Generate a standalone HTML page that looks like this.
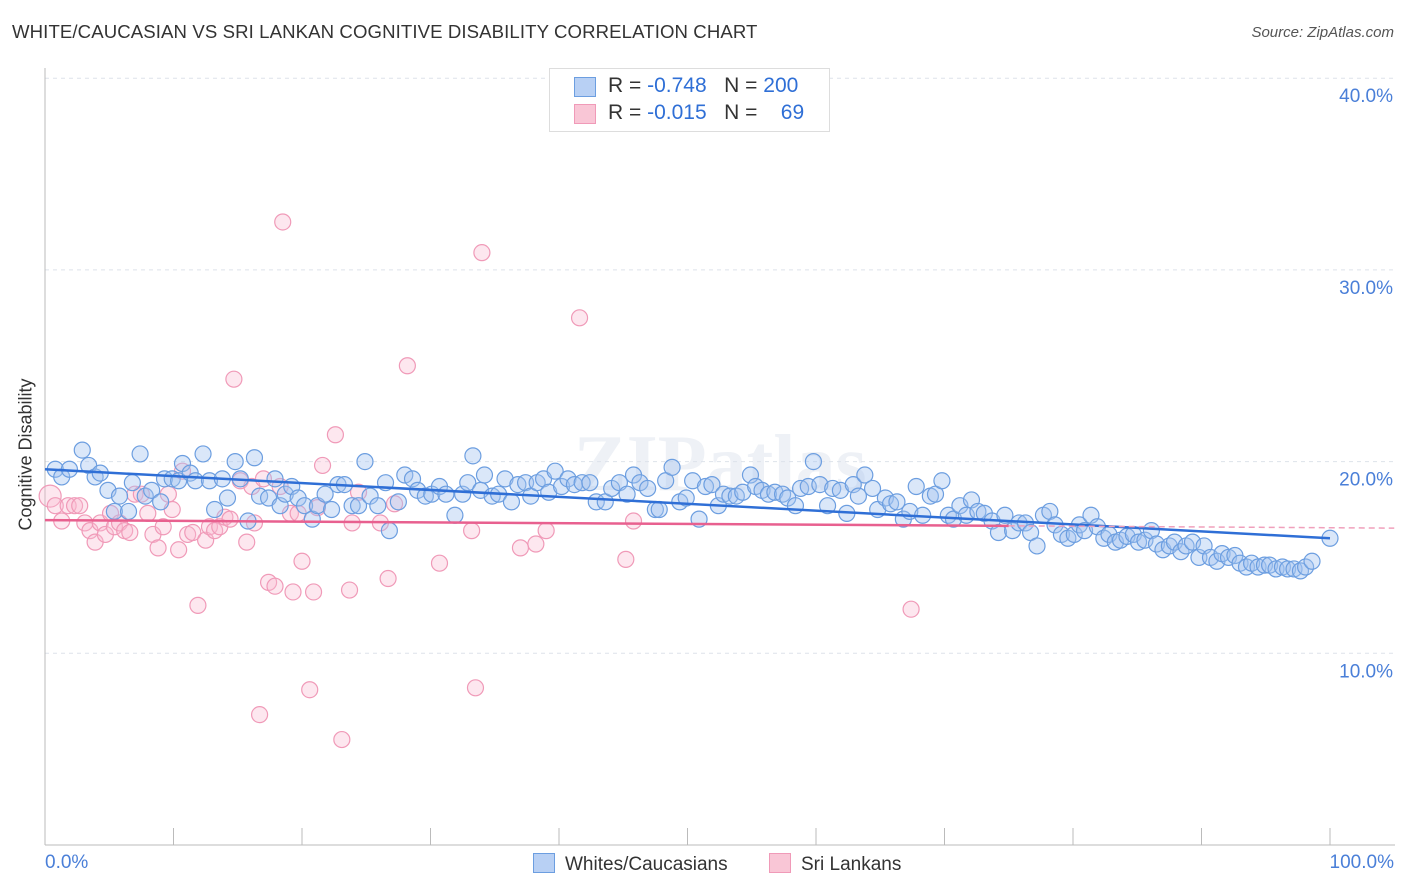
<!DOCTYPE html>
<html><head><meta charset="utf-8"><style>
body{margin:0;background:#fff;font-family:"Liberation Sans",sans-serif;}
#wrap{position:relative;width:1406px;height:892px;overflow:hidden;}
.t{position:absolute;white-space:nowrap;}
</style></head><body>
<div id="wrap">
<div class="t" style="left:12px;top:21px;font-size:18.6px;color:#333;letter-spacing:0.1px;">WHITE/CAUCASIAN VS SRI LANKAN COGNITIVE DISABILITY CORRELATION CHART</div>
<div class="t" style="right:12px;top:24px;font-size:15px;color:#555;font-style:italic;">Source: ZipAtlas.com</div>
<svg id="svg" width="1406" height="892" style="position:absolute;left:0;top:0"></svg>
</div>
<script>
const yTicks=[10,20,30,40];
const yTickLabels=["10.0%","20.0%","30.0%","40.0%"];
const blueX=[0.8,1.3,1.9,2.9,3.4,3.9,4.3,4.9,5.4,5.8,6.5,6.8,7.4,7.8,8.3,9.0,9.3,9.9,10.4,10.7,11.3,11.7,12.3,12.8,13.2,13.8,14.2,14.8,15.2,15.8,16.3,16.7,17.4,17.9,18.3,18.7,19.2,19.7,20.2,20.8,21.2,21.8,22.3,22.8,23.3,23.9,24.4,24.9,25.3,25.9,26.5,26.8,27.5,28.0,28.6,29.0,29.6,30.1,30.7,31.2,31.9,32.5,32.9,33.3,33.9,34.2,34.8,35.3,35.8,36.3,36.8,37.4,37.8,38.3,38.8,39.2,39.7,40.2,40.7,41.2,41.8,42.4,42.9,43.6,44.1,44.7,45.3,45.8,46.3,46.9,47.5,47.8,48.3,48.8,49.4,49.9,50.4,50.9,51.4,51.9,52.4,52.8,53.3,53.8,54.3,54.9,55.3,55.8,56.3,56.8,57.4,57.8,58.4,58.8,59.4,59.8,60.3,60.9,61.3,61.9,62.4,62.9,63.3,63.8,64.4,64.8,65.4,65.8,66.3,66.8,67.3,67.8,68.3,68.9,69.3,69.8,70.3,70.7,71.2,71.7,72.1,72.6,73.1,73.7,74.2,74.7,75.3,75.8,76.3,76.7,77.2,77.7,78.2,78.6,79.1,79.6,80.1,80.5,80.9,81.4,81.9,82.4,82.8,83.3,83.7,84.2,84.7,85.1,85.6,86.1,86.5,87.0,87.5,87.9,88.4,88.8,89.3,89.8,90.2,90.7,91.2,91.6,92.1,92.6,93.0,93.5,93.9,94.4,94.9,95.3,95.8,96.3,96.7,97.2,97.7,98.1,98.6,100];
const blueY=[19.6,19.2,19.6,20.6,19.8,19.2,19.4,18.5,17.4,18.2,17.4,18.9,20.4,18.2,18.5,17.9,19.1,19.1,19.0,19.9,19.4,19.0,20.4,19.0,17.5,19.1,18.1,20.0,19.1,16.9,20.2,18.2,18.1,19.1,17.7,18.3,18.7,18.1,17.7,17.0,17.7,18.3,17.5,18.8,18.8,17.7,17.7,20.0,18.2,17.7,18.9,16.4,17.9,19.3,19.1,18.5,18.2,18.3,18.7,18.3,17.2,18.3,18.9,20.3,18.5,19.3,18.2,18.3,19.1,17.9,18.8,18.9,18.2,18.9,19.1,18.4,19.5,18.7,19.1,18.8,18.9,18.9,17.9,17.9,18.6,18.9,18.3,19.3,18.9,18.6,17.5,17.5,19.0,19.7,17.9,18.1,19.0,17.0,18.7,18.8,17.7,18.3,18.2,18.2,18.4,19.3,18.7,18.5,18.3,18.4,18.3,18.1,17.7,18.6,18.7,20.0,18.8,17.7,18.6,18.5,17.3,18.8,18.2,19.3,18.6,17.5,18.1,17.8,17.9,17.0,17.4,18.7,17.2,18.2,18.3,19.0,17.2,17.0,17.7,17.2,18.0,17.4,17.3,16.9,16.3,17.2,16.4,16.8,16.8,16.3,15.6,17.2,17.4,16.7,16.2,16.0,16.2,16.7,16.4,17.2,16.6,16.0,16.2,15.8,15.9,16.1,16.2,15.8,15.9,16.4,15.7,15.4,15.6,15.8,15.3,15.6,15.8,15.0,15.6,15.0,14.8,15.2,15.0,15.1,14.7,14.5,14.7,14.5,14.6,14.6,14.4,14.5,14.4,14.4,14.3,14.5,14.8,16.0];
const pinkX=[0.4,0.8,1.3,1.8,2.3,2.7,3.1,3.5,3.9,4.3,4.7,5.1,5.4,5.8,6.2,6.6,7.0,7.5,8.0,8.4,8.8,9.2,9.6,9.9,10.4,10.7,11.1,11.5,11.9,12.5,12.8,13.2,13.6,14.0,14.4,14.7,15.2,15.7,16.1,16.3,16.7,17.0,17.4,17.9,18.3,18.5,19.1,19.3,19.7,20.0,20.6,20.9,21.2,21.6,22.6,23.1,23.7,23.9,24.4,26.1,26.7,27.2,28.2,30.7,33.2,33.5,34.0,37.0,38.2,39.0,41.6,45.2,45.8,67.4];
const pinkY=[18.2,17.7,16.9,17.7,17.7,17.7,16.8,16.4,15.8,16.8,16.2,17.3,16.6,16.8,16.4,16.3,18.3,18.3,17.3,16.2,15.5,16.6,18.3,17.5,15.4,19.5,16.2,16.3,12.5,15.9,16.6,16.4,16.6,17.1,17.0,24.3,19.0,15.8,18.7,16.8,6.8,19.1,13.7,13.5,18.7,32.5,17.3,13.2,17.3,14.8,8.1,13.2,17.6,19.8,21.4,5.5,13.3,16.8,18.4,16.8,13.9,17.8,25.0,14.7,16.4,8.2,30.9,15.5,15.7,16.4,27.5,14.9,16.9,12.3];
const blueTrend=[19.6,16.0];
const pinkTrend=[16.95,16.55];

const X0=45,X1=1330,Y0=845,PX=19.17;
const sx=v=>X0+(X1-X0)*v/100;
const sy=v=>Y0-v*PX;
const NS="http://www.w3.org/2000/svg";
const svg=document.getElementById('svg');
function mk(tag,attrs,parent){const e=document.createElementNS(NS,tag);for(const k in attrs)e.setAttribute(k,attrs[k]);(parent||svg).appendChild(e);return e;}

const wm=mk('text',{x:720,y:490,'text-anchor':'middle','font-size':'80','font-family':'Liberation Serif, serif','fill':'#eef1f6','font-weight':'bold'});


wm.textContent='ZIPatlas';

yTicks.forEach((t,i)=>{
 const g=mk('line',{x1:X0,x2:1395,y1:sy(t),y2:sy(t),stroke:'#dde2ea','stroke-dasharray':'4,4'});
 
 
 const lb=mk('text',{x:1393,y:sy(t)+24,'text-anchor':'end','font-size':'19','fill':'#4a7fd8','font-family':'Liberation Sans, sans-serif'});
 
 
 lb.textContent=yTickLabels[i];
});
const ax=mk('line',{x1:X0,x2:1395,y1:Y0,y2:Y0,stroke:'#bbb'});


const ay=mk('line',{x1:X0,x2:X0,y1:68,y2:Y0,stroke:'#bbb'});


for(let i=0;i<=10;i++){
 const tk=mk('line',{x1:sx(i*10),x2:sx(i*10),y1:828,y2:Y0,stroke:'#bbb'});
 
 
}

pinkX.forEach((x,i)=>{
 const c=mk('circle',{cx:sx(x),cy:sy(pinkY[i]),r:i===0?11:8,fill:'rgba(248,187,208,0.35)',stroke:'#f09ab8','stroke-width':1.2});
 
 
});
blueX.forEach((x,i)=>{
 const c=mk('circle',{cx:sx(x),cy:sy(blueY[i]),r:8,fill:'rgba(163,196,240,0.4)',stroke:'#6c9ee0','stroke-width':1.2});
 
 
});
const bl=mk('line',{x1:sx(0),y1:sy(blueTrend[0]),x2:sx(100),y2:sy(blueTrend[1]),stroke:'#2f6fd6','stroke-width':2.5});


const pslope=(pinkTrend[1]-pinkTrend[0])/100;
const pl=mk('line',{x1:sx(0),y1:sy(pinkTrend[0]),x2:sx(75),y2:sy(pinkTrend[0]+pslope*75),stroke:'#e8608f','stroke-width':2.5});


const pd=mk('line',{x1:sx(75),y1:sy(pinkTrend[0]+pslope*75),x2:sx(105),y2:sy(pinkTrend[0]+pslope*105),stroke:'#f0a0bc','stroke-width':1.5,'stroke-dasharray':'6,4'});


</script>
<div class="t" style="left:-50px;top:444px;transform:rotate(-90deg);font-size:18px;color:#333;">Cognitive Disability</div>
<div class="t" style="left:45px;top:852px;font-size:19px;color:#4a7fd8;">0.0%</div>
<div class="t" style="right:12px;top:852px;font-size:19px;color:#4a7fd8;">100.0%</div>
<div style="position:absolute;left:549px;top:68px;width:279px;height:62px;border:1px solid #ddd;background:#fff;font-size:21px;">
 <div style="position:absolute;left:24px;top:8px;width:20px;height:18px;background:#b8d0f4;border:1px solid #6c9ee0;"></div>
 <div class="t" style="left:58px;top:5px;color:#333;">R = <span style="color:#2f6fd6">-0.748</span>&nbsp;&nbsp;&nbsp;N = <span style="color:#2f6fd6">200</span></div>
 <div style="position:absolute;left:24px;top:35px;width:20px;height:18px;background:#f9c6d6;border:1px solid #f09ab8;"></div>
 <div class="t" style="left:58px;top:32px;color:#333;">R = <span style="color:#2f6fd6">-0.015</span>&nbsp;&nbsp;&nbsp;N = &nbsp;&nbsp;&nbsp;<span style="color:#2f6fd6">69</span></div>
</div>
<div style="position:absolute;left:533px;top:853px;font-size:19px;color:#333;">
 <span style="display:inline-block;width:20px;height:18px;background:#b8d0f4;border:1px solid #6c9ee0;vertical-align:-3px;margin-right:10px;"></span>Whites/Caucasians</div>
<div style="position:absolute;left:769px;top:853px;font-size:19px;color:#333;">
 <span style="display:inline-block;width:20px;height:18px;background:#f9c6d6;border:1px solid #f09ab8;vertical-align:-3px;margin-right:10px;"></span>Sri Lankans</div>
</body></html>
